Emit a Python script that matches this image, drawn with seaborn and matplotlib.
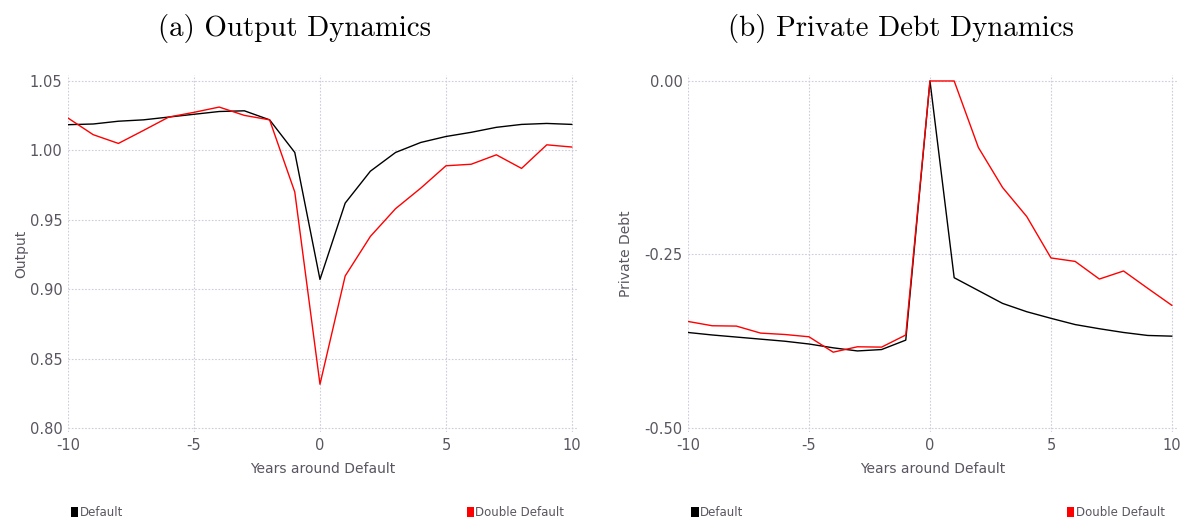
import numpy as np
import pandas as pd
import matplotlib
matplotlib.use("Agg")
import matplotlib.pyplot as plt
from matplotlib.patches import Patch
from matplotlib.ticker import FuncFormatter
import seaborn as sns

years = list(range(-10, 11))
output_default = [1.0185, 1.019, 1.021, 1.022, 1.024, 1.026, 1.028, 1.0285, 1.022, 0.9985,
                  0.907, 0.962, 0.985, 0.9985, 1.0057, 1.010, 1.013, 1.0166, 1.0187, 1.0194, 1.0187]
output_double = [1.0233, 1.0113, 1.005, 1.0144, 1.024, 1.0274, 1.0312, 1.0252, 1.022, 0.970,
                 0.8315, 0.9095, 0.938, 0.958, 0.9728, 0.9889, 0.990, 0.9968, 0.987, 1.004, 1.0024]
debt_default = [-0.3624, -0.366, -0.369, -0.372, -0.375, -0.379, -0.3845, -0.389, -0.387, -0.3734,
                0.0, -0.2835, -0.302, -0.3205, -0.3325, -0.342, -0.351, -0.357, -0.3624, -0.3667, -0.3677]
debt_double = [-0.3465, -0.3527, -0.3532, -0.3633, -0.3653, -0.3686, -0.3908, -0.383, -0.3835, -0.366,
               0.0, 0.0, -0.0958, -0.1535, -0.1954, -0.255, -0.26, -0.2854, -0.2738, -0.2988, -0.3234]
series_names = ["Default", "Double Default"]
colors = {"Default": "#000000", "Double Default": "#ff0000"}

df_out = pd.DataFrame({"year": years * 2,
                       "value": output_default + output_double,
                       "series": [series_names[0]] * 21 + [series_names[1]] * 21})
df_debt = pd.DataFrame({"year": years * 2,
                        "value": debt_default + debt_double,
                        "series": [series_names[0]] * 21 + [series_names[1]] * 21})

sns.set_theme(style="white")
plt.rcParams['font.family'] = ['DejaVu Sans']

fig = plt.figure(figsize=(11.86, 5.17), dpi=100)
W, H = 1186, 517
ax1 = fig.add_axes([68 / W, 1 - 432 / H, 510 / W, 357 / H])
ax2 = fig.add_axes([688 / W, 1 - 432 / H, 490 / W, 357 / H])

tick_color = "#5a5560"
grid_color = "#cdcddc"

def hy(fmt):
    return FuncFormatter(lambda v, p: (fmt % v).replace("\u2212", "-"))

panels = [
    (ax1, df_out, "(a) Output Dynamics", "Output", (0.7971, 1.0543), [0.80, 0.85, 0.90, 0.95, 1.00, 1.05], "%.2f", 10.24, 295, 1),
    (ax2, df_debt, "(b) Private Debt Dynamics", "Private Debt", (-0.5058, 0.0086), [-0.50, -0.25, 0.00], "%.2f", 10.25, 901, 8),
]

for ax, df, title, ylab, ylim, yt, fmt, xmax, tx, ylp in panels:
    sns.lineplot(data=df, x="year", y="value", hue="series", palette=colors,
                 linewidth=1.0, ax=ax, legend=False)
    ax.set_xlim(-10, xmax)
    ax.set_ylim(*ylim)
    ax.set_yticks(yt)
    ax.set_xticks([-10, -5, 0, 5, 10])
    ax.xaxis.set_major_formatter(FuncFormatter(lambda v, p: "%d" % v))
    ax.yaxis.set_major_formatter(hy(fmt))
    for s in ax.spines.values():
        s.set_visible(False)
    ax.grid(True, color=grid_color, linestyle=(0, (1.5, 1.5)), linewidth=0.8)
    ax.tick_params(axis="both", colors=tick_color, labelsize=10.5, length=0, pad=4)
    ax.set_xlabel("Years around Default", color=tick_color, fontsize=10, labelpad=7)
    ax.set_ylabel(ylab, color=tick_color, fontsize=10, labelpad=ylp)
    fig.text(tx / W, 1 - 28.5 / H, title, fontfamily="cmr10", fontsize=20.8,
             ha="center", va="center", color="black")
    h1 = [Patch(facecolor=colors[series_names[0]], edgecolor="none")]
    h2 = [Patch(facecolor=colors[series_names[1]], edgecolor="none")]
    leg1 = ax.legend(h1, [series_names[0]], loc="center left", bbox_to_anchor=(-0.005, -0.225),
                     frameon=False, fontsize=8.5, handlelength=0.6, handleheight=0.9,
                     handletextpad=0.15, borderpad=0, labelcolor=tick_color)
    ax.add_artist(leg1)
    ax.legend(h2, [series_names[1]], loc="center right", bbox_to_anchor=(0.985, -0.225),
              frameon=False, fontsize=8.5, handlelength=0.6, handleheight=0.9,
              handletextpad=0.15, borderpad=0, labelcolor=tick_color)

fig.savefig("out.png", dpi=100)
